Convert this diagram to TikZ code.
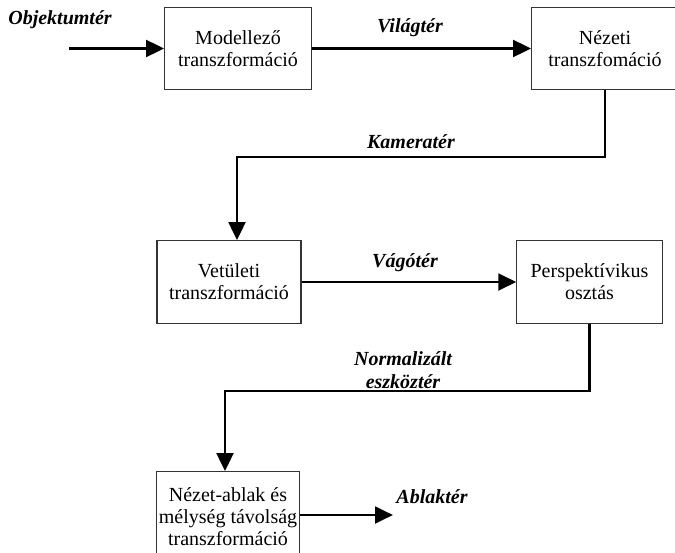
\documentclass[tikz,border=0pt]{standalone}
\usepackage{fontspec}
\setmainfont{Liberation Serif}
\usetikzlibrary{arrows.meta}

\begin{document}
\begin{tikzpicture}[x=0.75pt, y=-0.75pt,
  box/.style={draw=black!80, line width=0.8pt, align=center, minimum width=110pt,
    minimum height=62pt, inner sep=1pt, font=\fontsize{15}{16.5}\selectfont},
  lbl/.style={align=center, font=\fontsize{15}{17.5}\selectfont\bfseries\itshape},
  flow/.style={line width=2.2pt, -{Triangle[length=13.5pt,width=12.5pt]}}]
\useasboundingbox (0,0) rectangle (675,553);
\node[box] (mod) at (238,48.5) {Modellező\\transzformáció};
\node[box] (nez) at (605,48.5) {Nézeti\\transzfomáció};
\node[box, minimum width=108pt] (vet) at (229,282) {Vetületi\\transzformáció};
\node[box, minimum width=109pt] (per) at (589.5,282) {Perspektívikus\\osztás};
\node[box, minimum width=107pt, minimum height=68pt] (abl) at (228,517) {Nézet-ablak és\\mélység távolság\\transzformáció};
\coordinate (in) at (69,48.5);
\coordinate (out) at (393,515);
\coordinate (kam) at (237,157);
\coordinate (nor) at (225,391);
\draw[flow] (in) -- (mod);
\draw[flow] (mod) -- (nez);
\draw[flow] (nez.south) |- (kam) -- (kam |- vet.north);
\draw[flow] (vet) -- (per);
\draw[flow] (per.south) |- (nor) -- (nor |- abl.north);
\draw[flow] (abl.east |- out) -- (out);
\node[lbl] (objl) at (60,20) {Objektumtér};
\node[lbl] (vill) at (410,28) {Világtér};
\node[lbl] (kaml) at (411,142) {Kameratér};
\node[lbl] (vagl) at (405,263) {Vágótér};
\node[lbl] (norl) at (403,370) {Normalizált\\eszköztér};
\node[lbl] (abll) at (432,497) {Ablaktér};
\end{tikzpicture}
\end{document}
